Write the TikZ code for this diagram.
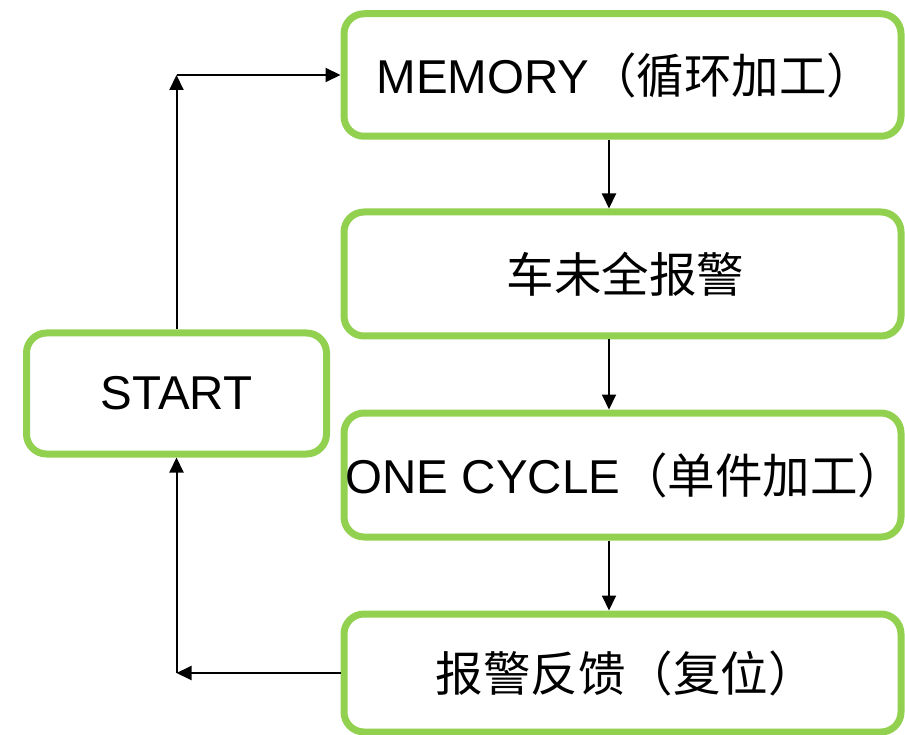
\documentclass[tikz,border=0pt]{standalone}
\usepackage{fontspec}
\setmainfont{Liberation Sans}
\newfontfamily\cjk{Noto Sans CJK SC}
\usetikzlibrary{arrows.meta}
\definecolor{boxgreen}{RGB}{146,208,80}
\tikzset{
  box/.style={draw=boxgreen, line width=7pt, rounded corners=20pt, fill=white,
    inner sep=0pt, align=center, font=\fontsize{47.5}{56}\selectfont},
  arr/.style={draw=black, line width=2pt, -{Triangle[length=15pt,width=14pt]}}
}
\newcommand{\zw}[1]{\makebox[0pt][c]{\hspace{6pt}#1}}
\begin{document}
\begin{tikzpicture}[x=1pt,y=-1pt]
\useasboundingbox (0,0) rectangle (905,735);
\begin{scope}
\clip (0,0) rectangle (905,735);
\node[box, minimum width=557pt, minimum height=122.5pt] (b1) at (622.5,75) {\zw{MEMORY{\cjk （循环加工）}}};
\node[box, minimum width=557pt, minimum height=124pt] (b2) at (622.5,274) {\zw{\cjk 车未全报警}};
\node[box, minimum width=557pt, minimum height=124pt] (b3) at (622.5,475) {\zw{ONE CYCLE{\cjk （单件加工）}}};
\node[box, minimum width=557pt, minimum height=118pt] (b4) at (622.5,673) {\zw{\cjk 报警反馈（复位）}};
\node[box, minimum width=300pt, minimum height=121pt] (start) at (176.5,393.5) {\makebox[0pt][c]{START}};
\end{scope}
\coordinate (vx) at (609,0);
\draw[arr] (b1.south -| vx) -- (b2.north -| vx);
\draw[arr] (b2.south -| vx) -- (b3.north -| vx);
\draw[arr] (b3.south -| vx) -- (b4.north -| vx);
\coordinate (tl) at (start.north |- b1.west);
\coordinate (bl) at (start.south |- b4.west);
\draw[arr] (start.north) -- (tl);
\draw[arr] (tl) -- (b1.west);
\draw[arr] (b4.west) -- (bl);
\draw[arr] (bl) -- (start.south);
\end{tikzpicture}
\end{document}
